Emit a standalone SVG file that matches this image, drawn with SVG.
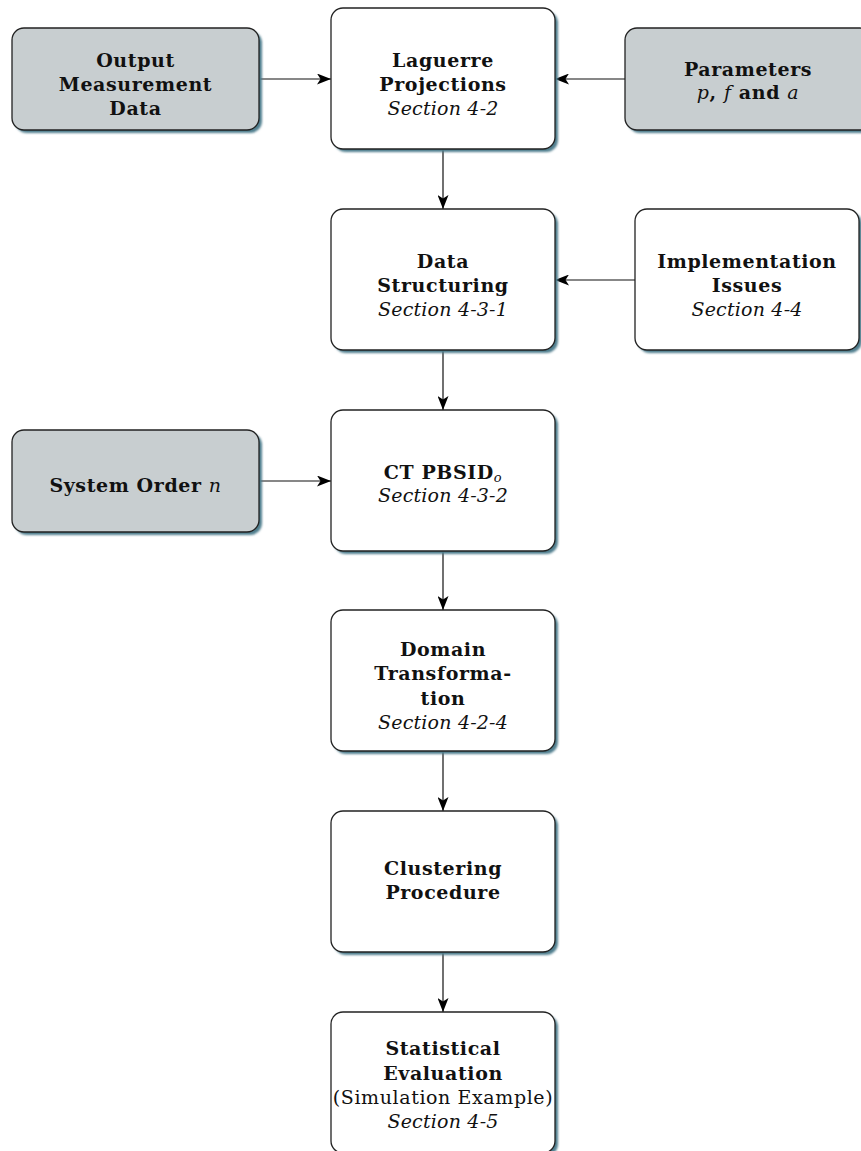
<svg xmlns="http://www.w3.org/2000/svg" width="861" height="1151" viewBox="0 0 861 1151">
<defs>
<marker id="arr" viewBox="0 0 14 11" refX="14" refY="5.5" markerWidth="14" markerHeight="11" markerUnits="userSpaceOnUse" orient="auto">
<path d="M0,0 L14,5.5 L0,11 L3.5,5.5 Z" fill="#000"/>
</marker>
<filter id="blur" x="-5%" y="-5%" width="110%" height="110%"><feGaussianBlur stdDeviation="0.8"/></filter>
</defs>
<style>
.sh{fill:#4f7e8e;filter:url(#blur)}
.box{fill:#fff;stroke:#222;stroke-width:1.3}
.grey{fill:#c8ced0}
text{font-family:"DejaVu Serif","Liberation Serif",serif;font-size:19px;fill:#111;text-anchor:middle;letter-spacing:0.6px}
.b{font-weight:bold}
.i{font-style:italic;letter-spacing:0.2px}
.m{font-style:italic;font-weight:normal}
.con{stroke:#111;stroke-width:1.2;fill:none;marker-end:url(#arr)}
</style>
<rect width="861" height="1151" fill="#fff"/>
<g id="connectors">
<line class="con" x1="259" y1="79" x2="331" y2="79"/>
<line class="con" x1="625" y1="79" x2="555" y2="79"/>
<line class="con" x1="443" y1="149" x2="443" y2="209"/>
<line class="con" x1="635" y1="280" x2="555" y2="280"/>
<line class="con" x1="443" y1="350" x2="443" y2="410"/>
<line class="con" x1="259" y1="481" x2="331" y2="481"/>
<line class="con" x1="443" y1="551" x2="443" y2="610"/>
<line class="con" x1="443" y1="751" x2="443" y2="811"/>
<line class="con" x1="443" y1="952" x2="443" y2="1012"/>
</g>
<g id="output">
<rect class="sh" x="15" y="31" width="247" height="102" rx="12"/>
<rect class="box grey" x="12" y="28" width="247" height="102" rx="12"/>
<text class="b" x="135.5" y="67">Output</text>
<text class="b" x="135.5" y="91">Measurement</text>
<text class="b" x="135.5" y="115">Data</text>
</g>
<g id="laguerre">
<rect class="sh" x="334" y="11" width="224" height="141" rx="12"/>
<rect class="box" x="331" y="8" width="224" height="141" rx="12"/>
<text class="b" x="443" y="67">Laguerre</text>
<text class="b" x="443" y="91">Projections</text>
<text class="i" x="443" y="115">Section 4-2</text>
</g>
<g id="parameters">
<rect class="sh" x="628" y="31" width="247" height="102" rx="12"/>
<rect class="box grey" x="625" y="28" width="247" height="102" rx="12"/>
<text class="b" x="748" y="76">Parameters</text>
<text class="b" x="748" y="99"><tspan class="m">p</tspan>, <tspan class="m">f</tspan> and <tspan class="m">a</tspan></text>
</g>
<g id="structuring">
<rect class="sh" x="334" y="212" width="224" height="141" rx="12"/>
<rect class="box" x="331" y="209" width="224" height="141" rx="12"/>
<text class="b" x="443" y="268">Data</text>
<text class="b" x="443" y="292">Structuring</text>
<text class="i" x="443" y="316">Section 4-3-1</text>
</g>
<g id="implementation">
<rect class="sh" x="638" y="212" width="224" height="141" rx="12"/>
<rect class="box" x="635" y="209" width="224" height="141" rx="12"/>
<text class="b" x="747" y="268">Implementation</text>
<text class="b" x="747" y="292">Issues</text>
<text class="i" x="747" y="316">Section 4-4</text>
</g>
<g id="systemorder">
<rect class="sh" x="15" y="433" width="247" height="102" rx="12"/>
<rect class="box grey" x="12" y="430" width="247" height="102" rx="12"/>
<text class="b" x="135.5" y="492">System Order <tspan class="m">n</tspan></text>
</g>
<g id="pbsid">
<rect class="sh" x="334" y="413" width="224" height="141" rx="12"/>
<rect class="box" x="331" y="410" width="224" height="141" rx="12"/>
<text class="b" x="443" y="479">CT PBSID<tspan class="m" font-size="13" dy="3">o</tspan></text>
<text class="i" x="443" y="502">Section 4-3-2</text>
</g>
<g id="domain">
<rect class="sh" x="334" y="613" width="224" height="141" rx="12"/>
<rect class="box" x="331" y="610" width="224" height="141" rx="12"/>
<text class="b" x="443" y="656">Domain</text>
<text class="b" x="443" y="680">Transforma-</text>
<text class="b" x="443" y="705">tion</text>
<text class="i" x="443" y="729">Section 4-2-4</text>
</g>
<g id="clustering">
<rect class="sh" x="334" y="814" width="224" height="141" rx="12"/>
<rect class="box" x="331" y="811" width="224" height="141" rx="12"/>
<text class="b" x="443" y="875">Clustering</text>
<text class="b" x="443" y="899">Procedure</text>
</g>
<g id="statistical">
<rect class="sh" x="334" y="1015" width="224" height="141" rx="12"/>
<rect class="box" x="331" y="1012" width="224" height="141" rx="12"/>
<text class="b" x="443" y="1055">Statistical</text>
<text class="b" x="443" y="1080">Evaluation</text>
<text x="443" y="1104">(Simulation Example)</text>
<text class="i" x="443" y="1128">Section 4-5</text>
</g>
</svg>
